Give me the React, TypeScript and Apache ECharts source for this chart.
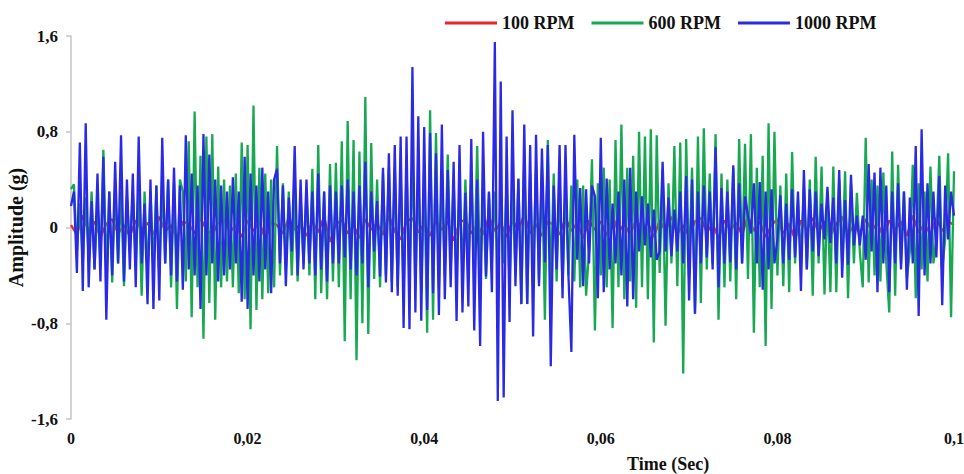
import React, { useEffect, useRef } from "react";
import * as echarts from "echarts";

const seriesNames = ["100 RPM", "600 RPM", "1000 RPM"];
const xTickStep = 0.02;
const yTickStep = 0.8;

const rpm100 = [
  0.02, -0.06, 0.1, -0.03, 0.05, -0.08, 0.03, 0.07, -0.05, 0.02,
  -0.07, 0.06, -0.02, 0.04, -0.06, 0.09, -0.03, 0.02, -0.09, 0.05,
  0.03, -0.05, 0.08, -0.02, -0.06, 0.04, 0.07, -0.04, 0.02, -0.08,
  0.06, -0.03, 0.05, -0.1, 0.04, 0.02, -0.05, 0.08, -0.02, 0.03,
  -0.07, 0.05, -0.04, 0.09, -0.12, 0.03, 0.06, -0.05, 0.02, -0.09,
  0.07, -0.02, 0.04, -0.06, 0.1, -0.03, -0.1, 0.05, 0.08, -0.04,
  0.03, -0.07, 0.06, -0.02, 0.05, -0.11, 0.04, 0.07, -0.05, 0.02,
  -0.06, 0.09, -0.03, 0.04, -0.08, 0.06, -0.02, 0.11, -0.05, 0.03,
  -0.07, 0.05, 0.02, -0.06, 0.08, -0.03, 0.04, -0.09, 0.06, -0.02,
  0.05, -0.07, 0.1, -0.04, 0.03, -0.06, 0.07, -0.02, 0.04, -0.08,
  0.06, -0.03, 0.09, -0.05, 0.02, -0.07, 0.05, 0.08, -0.04, 0.03,
  -0.09, 0.06, -0.02, 0.04, -0.06, 0.1, -0.03, 0.05, -0.08, 0.02,
  0.07, -0.05, 0.03, -0.1, 0.06, -0.02, 0.08, -0.04, 0.05, -0.07,
  0.03, 0.09, -0.06, 0.02, -0.05, 0.07, -0.03, 0.04, -0.08, 0.06,
  -0.02, 0.05, -0.07, 0.1, -0.04, 0.03, -0.06, 0.08, -0.03, 0.05, 0.02,
];

const rpm600 = [
  0.32, 0.36, -0.2, 0.2, -0.3, 0.25, -0.25, 0.3, -0.35, 0.2,
  -0.3, 0.65, -0.39, 0.3, -0.46, 0.35, -0.3, 0.3, -0.49, 0.25,
  -0.2, 0.3, -0.3, 0.34, -0.57, 0.3, -0.4, 0.3, -0.35, 0.35,
  -0.4, 0.37, -0.3, 0.4, -0.5, 0.38, -0.68, 0.4, 0.3, -0.45,
  0.72, -0.75, 0.97, -0.5, 0.6, -0.93, 0.76, -0.63, 0.78, -0.77,
  0.51, -0.5, 0.4, -0.45, 0.35, -0.5, 0.45, -0.55, 0.71, -0.6,
  0.69, -0.85, 1.02, -0.69, 0.5, -0.6, 0.45, -0.55, 0.4, -0.5,
  0.68, -0.4, 0.37, -0.35, 0.3, -0.4, 0.3, -0.45, 0.25, -0.3,
  0.3, -0.4, 0.49, -0.6, 0.69, -0.55, 0.3, -0.6, 0.53, -0.45,
  0.54, -0.5, 0.72, -0.95, 0.89, -0.6, 0.73, -1.11, 0.635, -0.8,
  1.09, -0.89, 0.705, -0.43, 0.4, -0.5, 0.45, -0.4, 0.5, -0.45,
  0.5, -0.5, 0.45, -0.55, 0.5, -0.45, 0.58, -0.5, 0.45, -0.55,
  0.5, -0.88, 0.98, -0.77, 0.79, -0.5, 0.45, -0.4, 0.61, -0.35,
  0.4, -0.42, 0.35, -0.4, 0.4, -0.35, 0.45, -0.4, 0.68, -0.43,
  0.3, -0.43, 0.29, -0.3, 0.3, -0.35, 0.25, -0.3, 0.38, -0.49,
  0.35, -0.4, 0.4, -0.64, 0.58, -0.64, 0.45, -0.4, 0.5, -0.45,
  0.5, -0.77, 0.73, -0.5, 0.45, -0.45, 0.4, -0.5, 0.35, -0.4,
  0.35, -0.45, 0.4, -0.5, 0.35, -0.57, -0.2, 0.57, -0.86, 0.37,
  -0.4, 0.5, -0.5, 0.4, -0.84, 0.73, -0.5, 0.86, -0.6, 0.5,
  -0.45, 0.6, -0.67, 0.8, -0.5, 0.76, -0.6, 0.82, -0.96, 0.77,
  -0.38, 0.48, -0.82, 0.37, -0.3, 0.68, -0.49, 0.71, -1.22, 0.74,
  -0.4, 0.5, -0.72, 0.76, -0.63, 0.83, -0.35, 0.45, -0.3, 0.78,
  -0.77, 0.45, -0.5, 0.4, -0.45, 0.5, -0.6, 0.74, -0.3, 0.7,
  -0.43, 0.78, -0.88, 0.5, -0.5, 0.6, -0.99, 0.87, -0.68, 0.8,
  -0.4, 0.35, -0.49, 0.45, -0.54, 0.63, -0.3, 0.23, -0.3, 0.35,
  -0.35, 0.4, -0.57, 0.59, -0.3, 0.51, -0.56, 0.3, -0.54, 0.51,
  -0.54, 0.4, -0.3, 0.47, -0.59, 0.36, -0.3, 0.29, -0.2, -0.5,
  0.75, -0.46, 0.4, -0.4, 0.35, -0.45, 0.46, -0.3, -0.71, 0.635,
  -0.57, 0.525, -0.3, 0.3, -0.42, -0.2, 0.525, -0.59, 0.37, -0.35,
  0.3, -0.45, 0.51, -0.3, -0.1, 0.6, -0.35, -0.1, 0.62, -0.75,
  0.47,
];

const rpm1000 = [
  0.18, 0.3, -0.38, 0.71, -0.53, 0.87, -0.5, 0.22, -0.35, 0.45,
  -0.45, 0.59, -0.77, 0.3, -0.4, 0.55, -0.3, 0.77, -0.45, 0.4,
  -0.35, 0.45, -0.5, 0.76, -0.3, 0.2, -0.64, 0.4, -0.68, 0.35,
  -0.61, 0.75, -0.3, 0.4, -0.4, 0.5, -0.45, 0.35, -0.52, 0.77,
  -0.35, 0.45, -0.4, 0.35, -0.68, 0.78, -0.4, 0.61, -0.3, 0.4,
  -0.45, 0.35, -0.4, 0.3, -0.35, 0.42, -0.3, 0.3, -0.62, 0.59,
  -0.68, 0.45, -0.4, 0.35, -0.45, 0.5, -0.35, 0.3, -0.55, 0.4,
  0.49, -0.3, 0.35, -0.49, 0.25, -0.2, 0.68, -0.4, 0.4, -0.35,
  0.4, -0.3, 0.3, -0.4, 0.45, -0.35, 0.3, -0.45, 0.35, -0.3,
  0.3, -0.3, 0.35, -0.25, 0.4, -0.35, 0.3, -0.4, 0.35, -0.3,
  0.55, -0.5, 0.3, -0.2, 0.22, -0.41, 0.5, -0.46, 0.62, -0.54,
  0.69, -0.57, 0.76, -0.84, 0.76, -0.85, 1.34, -0.71, 0.93, -0.78,
  0.84, -0.69, 0.79, -0.55, 0.62, -0.73, 0.86, -0.6, 0.48, -0.5,
  0.55, -0.78, 0.69, -0.71, 0.29, -0.66, 0.74, -0.86, 0.4, -0.99,
  0.8, -0.41, 0.3, -0.54, 1.55, -1.45, 1.22, -1.42, 0.76, -0.79,
  0.98, -0.49, 0.41, -0.64, 0.86, -0.64, 0.69, -0.91, 0.775, -0.49,
  0.66, -0.29, 0.69, -1.16, 0.35, -0.35, 0.69, -0.59, 0.69, -0.4,
  -1.04, 0.775, -0.27, 0.33, -0.49, 0.32, -0.3, 0.35, 0.26, -0.59,
  0.75, -0.54, 0.41, -0.35, 0.2, -0.3, 0.3, -0.4, 0.4, -0.66,
  0.5, -0.6, 0.3, -0.2, 0.26, -0.15, 0.2, -0.25, 0.15, -0.27,
  -0.2, 0.55, -0.2, 0.25, -0.24, 0.15, -0.2, 0.3, -0.3, 0.43,
  -0.61, 0.4, -0.72, 0.3, -0.3, 0.35, -0.25, 0.3, -0.35, 0.67,
  -0.5, 0.33, -0.3, 0.3, -0.29, 0.52, -0.35, 0.37, -0.3, 0.26,
  0.1, -0.05, 0.37, -0.3, 0.38, -0.52, 0.3, -0.35, 0.32, -0.3,
  -0.1, 0.27, -0.3, 0.2, -0.27, 0.32, -0.25, 0.3, -0.53, 0.48,
  -0.35, 0.32, -0.2, 0.3, -0.24, 0.2, -0.1, 0.34, -0.13, 0.25,
  -0.3, 0.48, -0.42, 0.23, -0.31, 0.44, -0.15, 0.1, -0.15, 0.1,
  -0.27, 0.53, -0.2, 0.46, -0.54, 0.5, -0.3, 0.35, -0.54, 0.3,
  -0.3, 0.37, -0.35, 0.3, -0.52, 0.25, -0.3, 0.68, -0.74, 0.82,
  -0.4, 0.37, -0.3, 0.3, -0.25, 0.43, -0.65, 0.35, -0.1, 0.3,
  0.1,
];

const tEnd = 0.1;
const toPairs = (vals: number[]) =>
  vals.map((v, i) => [(tEnd * i) / (vals.length - 1), v]);

const fmt = (v: number) => {
  const n = Number(v.toFixed(4));
  return String(n).replace(".", ",");
};

const colors = ["#e8262a", "#17a852", "#2a2ae6"];
const FONT = "'Liberation Serif', 'Times New Roman', serif";

export default function App() {
  const ref = useRef<HTMLDivElement>(null);
  useEffect(() => {
    document.body.style.margin = "0";
    if (!ref.current) return;
    const chart = echarts.init(ref.current, undefined, { renderer: "svg" });
    const dataSets = [rpm100, rpm600, rpm1000];
    chart.setOption({
      animation: false,
      backgroundColor: "#ffffff",
      legend: {
        left: 440,
        top: 9,
        itemWidth: 52,
        itemHeight: 3,
        itemGap: 17,
        icon: "rect",
        textStyle: { fontFamily: FONT, fontWeight: "bold", fontSize: 18, color: "#111" },
        data: seriesNames,
      },
      grid: {
        left: 71,
        right: 10,
        top: 36,
        bottom: 55,
        containLabel: false,
        outerBoundsMode: "none",
      },
      xAxis: {
        type: "value",
        min: 0,
        max: tEnd,
        interval: xTickStep,
        axisLine: { show: false },
        axisTick: { show: false },
        splitLine: { show: false },
        axisLabel: {
          margin: 11,
          formatter: fmt,
          fontFamily: FONT,
          fontWeight: "bold",
          fontSize: 16,
          color: "#111",
        },
      },
      yAxis: {
        type: "value",
        min: -1.6,
        max: 1.6,
        interval: yTickStep,
        name: "Amplitude (g)",
        nameLocation: "middle",
        nameGap: 45,
        nameMoveOverlap: false,
        nameTextStyle: { fontFamily: FONT, fontWeight: "bold", fontSize: 20, color: "#111" },
        axisLine: { show: true, onZero: false, lineStyle: { color: "#c4c4c4", width: 1.5 } },
        axisTick: { show: true, length: 5, lineStyle: { color: "#c4c4c4", width: 1.5 } },
        splitLine: { show: false },
        axisLabel: {
          margin: 13,
          formatter: fmt,
          fontFamily: FONT,
          fontWeight: "bold",
          fontSize: 17,
          color: "#111",
        },
      },
      graphic: [
        {
          type: "text",
          left: 627,
          top: 455,
          style: {
            text: "Time (Sec)",
            font: `bold 18px ${FONT}`,
            fill: "#111",
          },
        },
      ],
      series: seriesNames.map((name, k) => ({
        name,
        type: "line",
        data: toPairs(dataSets[k]),
        showSymbol: false,
        symbol: "none",
        smooth: false,
        lineStyle: { color: colors[k], width: 2.3 },
        itemStyle: { color: colors[k] },
        z: 2 + k,
      })),
    });
    return () => chart.dispose();
  }, []);
  return <div ref={ref} style={{ width: 964, height: 474 }} />;
}
